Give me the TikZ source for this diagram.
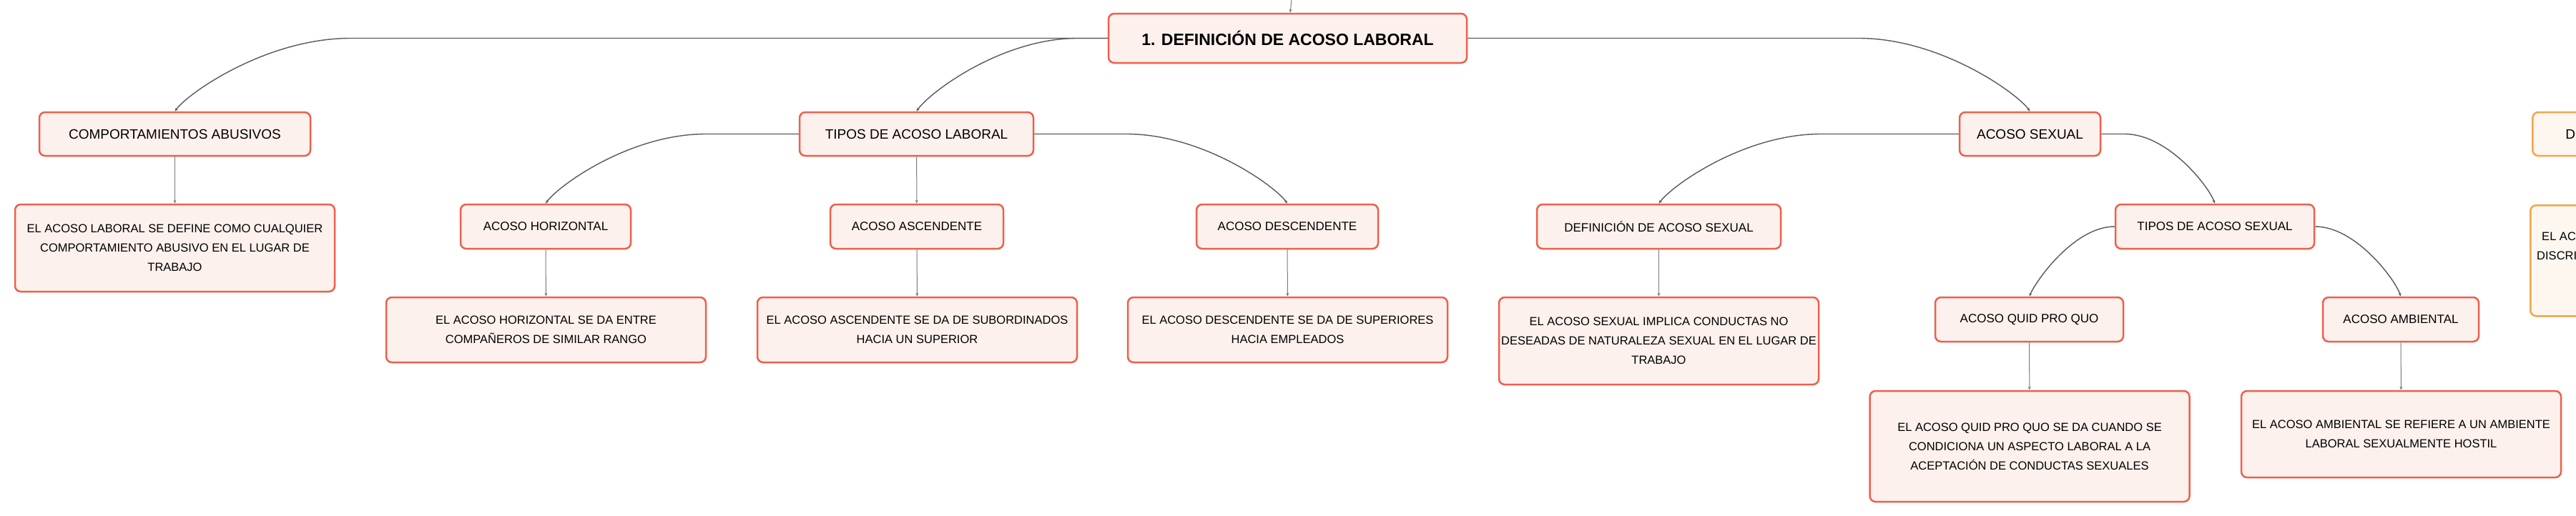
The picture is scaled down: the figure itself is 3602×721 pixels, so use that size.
\documentclass[tikz,border=0pt]{standalone}
\usepackage{fontspec}
\setmainfont{Liberation Sans}
\usepackage{tikz}
\usetikzlibrary{arrows.meta}

\definecolor{coral}{HTML}{EC604C}
\definecolor{pinkfill}{HTML}{FDF1ED}
\definecolor{amber}{HTML}{F2A64D}
\definecolor{amberfill}{HTML}{FEF7F0}
\definecolor{linkgray}{HTML}{595959}
\definecolor{leafgray}{HTML}{7A7A7A}

\begin{document}
\begin{tikzpicture}[>={Stealth[length=5pt,width=4pt]},x=1pt,y=1pt]
  \tikzstyle{box}=[draw=coral,fill=pinkfill,line width=2.5pt,rounded corners=8pt,text=black,align=center]
  \tikzstyle{topic}=[box,minimum height=61pt,font=\fontsize{19}{23}\selectfont]
  \tikzstyle{sub}=[box,minimum height=62pt,font=\fontsize{17}{21}\selectfont]
  \tikzstyle{info}=[box,minimum width=447pt,inner xsep=2pt,font=\fontsize{16.5}{27}\selectfont]
  \tikzstyle{branch}=[->,draw=linkgray,line width=1.4pt]
  \tikzstyle{leaf}=[->,draw=leafgray,line width=1pt]

  \useasboundingbox (0,0) rectangle (3602,-721);
  \clip (0,0) rectangle (3602,-721);

  \node[box,minimum width=501pt,minimum height=69pt,font=\bfseries\fontsize{23}{28}\selectfont] (A) at (1800.5,-53.5) {1. DEFINICIÓN DE ACOSO LABORAL};
  \coordinate (top) at (1806.5,6);

  \node[topic,minimum width=379pt] (B) at (244.5,-187.5) {COMPORTAMIENTOS ABUSIVOS};
  \node[topic,minimum width=327pt] (C) at (1281.5,-187.5) {TIPOS DE ACOSO LABORAL};
  \node[topic,minimum width=197pt] (D) at (2838.5,-187.5) {ACOSO SEXUAL};
  \node[topic,draw=amber,fill=amberfill,anchor=west,text width=200pt,align=left,inner xsep=46pt] (E) at (3540,-187.5) {D};

  \node[sub,minimum width=238pt] (F) at (763,-317) {ACOSO HORIZONTAL};
  \node[sub,minimum width=242pt] (G) at (1282,-317) {ACOSO ASCENDENTE};
  \node[sub,minimum width=254pt] (H) at (1800,-317) {ACOSO DESCENDENTE};
  \node[sub,minimum width=341pt] (I) at (2319.5,-317) {DEFINICIÓN DE ACOSO SEXUAL};
  \node[sub,minimum width=278pt] (J) at (3097,-317) {TIPOS DE ACOSO SEXUAL};
  \node[sub,minimum width=263pt] (K) at (2837.5,-447) {ACOSO QUID PRO QUO};
  \node[sub,minimum width=218pt] (L) at (3357,-447) {ACOSO AMBIENTAL};

  \node[info,minimum height=122pt] (t1) at (244.5,-347) {EL ACOSO LABORAL SE DEFINE COMO CUALQUIER\\COMPORTAMIENTO ABUSIVO EN EL LUGAR DE\\TRABAJO};
  \node[info,minimum height=91pt] (t2) at (763.5,-461.5) {EL ACOSO HORIZONTAL SE DA ENTRE\\COMPAÑEROS DE SIMILAR RANGO};
  \node[info,minimum height=91pt] (t3) at (1282.5,-461.5) {EL ACOSO ASCENDENTE SE DA DE SUBORDINADOS\\HACIA UN SUPERIOR};
  \node[info,minimum height=91pt] (t4) at (1800.5,-461.5) {EL ACOSO DESCENDENTE SE DA DE SUPERIORES\\HACIA EMPLEADOS};
  \node[info,minimum height=122pt] (t5) at (2319.5,-477) {EL ACOSO SEXUAL IMPLICA CONDUCTAS NO\\DESEADAS DE NATURALEZA SEXUAL EN EL LUGAR DE\\TRABAJO};
  \node[info,minimum height=155pt] (t6) at (2838,-624.5) {EL ACOSO QUID PRO QUO SE DA CUANDO SE\\CONDICIONA UN ASPECTO LABORAL A LA\\ACEPTACIÓN DE CONDUCTAS SEXUALES};
  \node[info,minimum height=121pt] (t7) at (3357.5,-607.5) {EL ACOSO AMBIENTAL SE REFIERE A UN AMBIENTE\\LABORAL SEXUALMENTE HOSTIL};
  \node[box,draw=amber,fill=amberfill,anchor=north west,minimum width=300pt,minimum height=155pt] (t8) at (3537,-286) {};
  \node[anchor=north west,align=left,inner sep=0pt,font=\fontsize{16.5}{27}\selectfont] (t9) at (3547,-325) {\hspace*{7pt}EL AC\\DISCRI};

  % curved branches
  \draw[branch] (A.west) -- (490,-53.5) .. controls (373,-53.5) and (263,-130) .. (B.north);
  \draw[branch] (A.west) -- (1507,-53.5) .. controls (1400,-53.5) and (1299,-130) .. (C.north);
  \draw[branch] (A.east) -- (2599,-53.5) .. controls (2713,-53.5) and (2820,-130) .. (D.north);
  \draw[branch] (C.west) -- (987,-187.5) .. controls (880,-187.5) and (780,-260.4) .. (F.north);
  \draw[branch] (C.east) -- (1575,-187.5) .. controls (1682,-187.5) and (1783,-260.4) .. (H.north);
  \draw[branch] (D.west) -- (2546,-187.5) .. controls (2438,-187.5) and (2337,-260.4) .. (I.north);
  \draw[branch] (D.east) -- (2971,-187.5) .. controls (3031,-187.5) and (3088,-260) .. (J.north);
  \draw[branch] (J.west) .. controls (2901,-317) and (2848,-391) .. (K.north);
  \draw[branch] (J.east) .. controls (3294,-317) and (3349,-391) .. (L.north);

  % straight links
  \draw[leaf] (top) -- (A);
  \draw[leaf] (B) -- (t1);
  \draw[leaf] (C) -- (G);
  \draw[leaf] (F) -- (t2);
  \draw[leaf] (G) -- (t3);
  \draw[leaf] (H) -- (t4);
  \draw[leaf] (I) -- (t5);
  \draw[leaf] (K) -- (t6);
  \draw[leaf] (L) -- (t7);
\end{tikzpicture}
\end{document}
